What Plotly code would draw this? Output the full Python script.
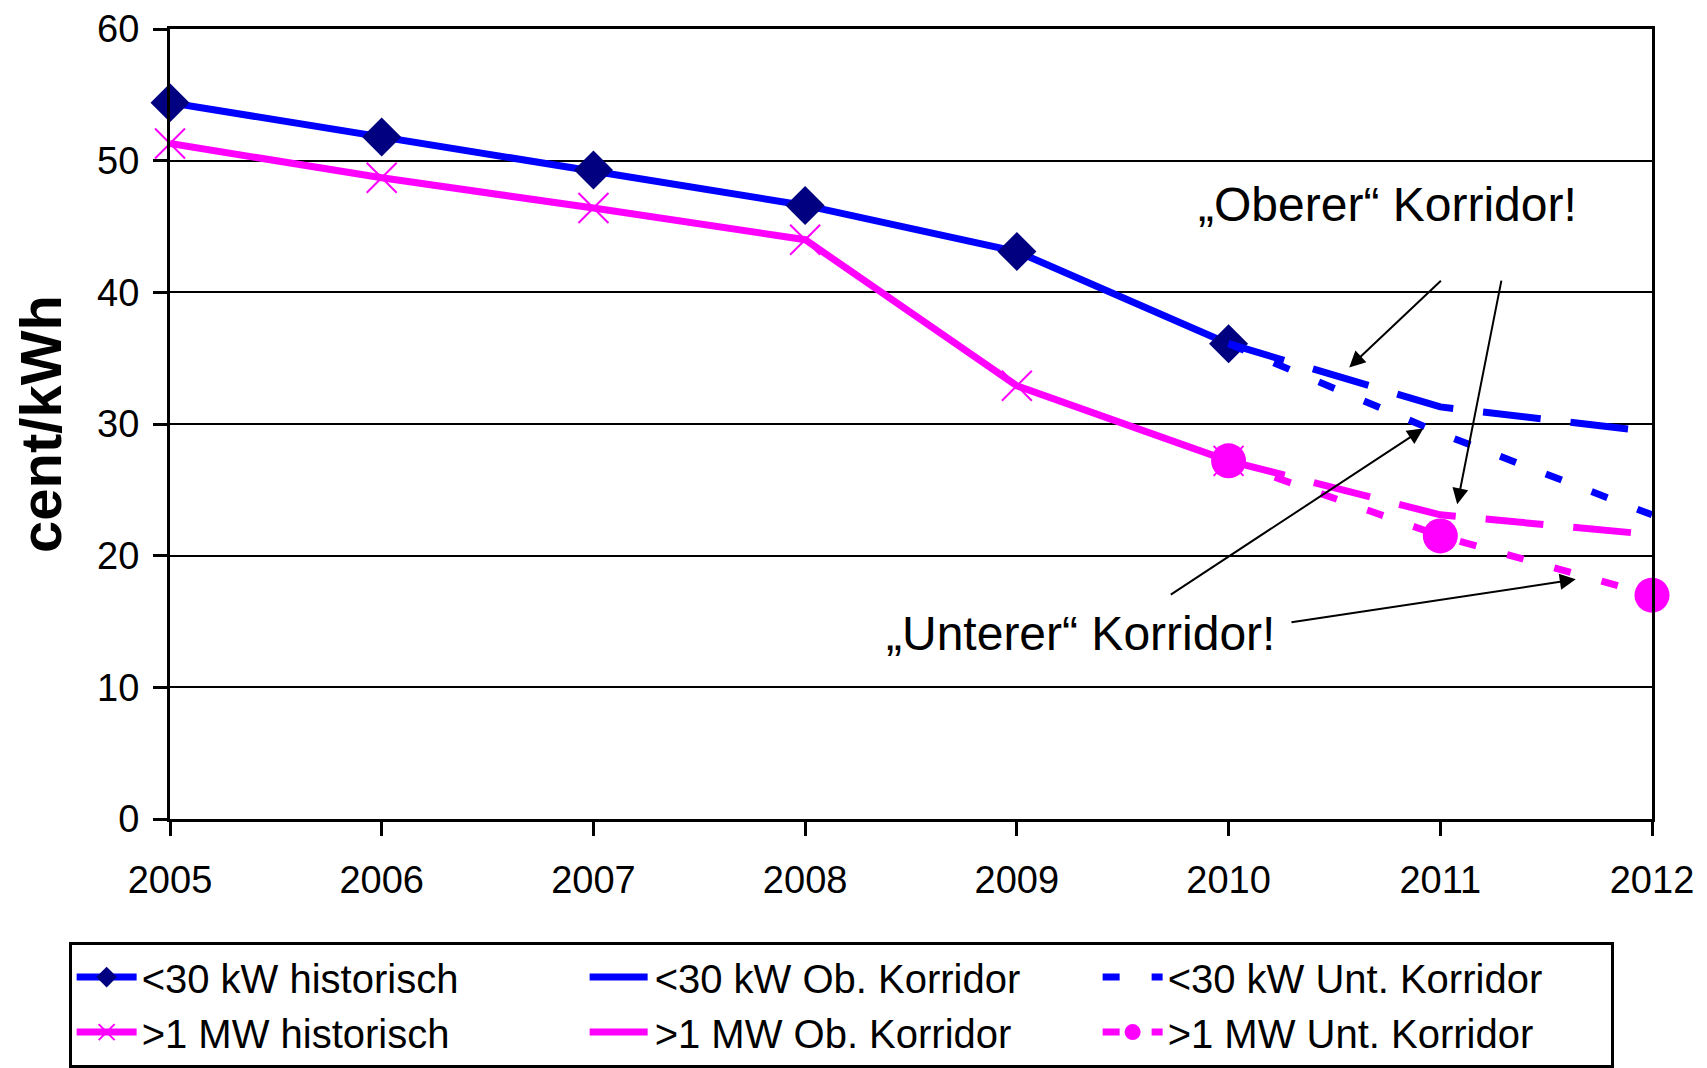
import plotly.graph_objects as go

# ---- data ----
years_hist = [2005, 2006, 2007, 2008, 2009, 2010]
small_hist = [54.4, 51.8, 49.3, 46.6, 43.1, 36.1]
large_hist = [51.3, 48.7, 46.4, 44.0, 32.9, 27.2]

years_fc = [2010, 2011, 2012]
small_upper = [36.1, 31.3, 29.4]
small_lower = [36.1, 29.3, 23.1]
large_upper = [27.2, 23.1, 21.6]
large_lower = [27.2, 21.5, 17.0]

tick_years = [2005, 2006, 2007, 2008, 2009, 2010, 2011, 2012]
y_ticks = [0, 10, 20, 30, 40, 50, 60]

names = [
    "<30 kW historisch",
    "<30 kW Ob. Korridor",
    "<30 kW Unt. Korridor",
    ">1 MW historisch",
    ">1 MW Ob. Korridor",
    ">1 MW Unt. Korridor",
]

BLUE = "#0000FF"
NAVY = "#000080"
MAG = "#FF00FF"
FONT = "Liberation Sans, Arial, sans-serif"
LW = 7
LONG = "58px,30px"
SHORT = "17px,32px"

fig = go.Figure()
fig.add_trace(go.Scatter(x=years_hist, y=small_hist, name=names[0], mode="lines+markers",
                         line=dict(color=BLUE, width=LW),
                         marker=dict(symbol="diamond", size=30, color=NAVY), cliponaxis=False))
fig.add_trace(go.Scatter(x=years_fc, y=small_upper, name=names[1], mode="lines",
                         line=dict(color=BLUE, width=LW, dash=LONG), cliponaxis=False))
fig.add_trace(go.Scatter(x=years_fc, y=small_lower, name=names[2], mode="lines",
                         line=dict(color=BLUE, width=LW, dash=SHORT), cliponaxis=False))
fig.add_trace(go.Scatter(x=years_hist, y=large_hist, name=names[3], mode="lines+markers",
                         line=dict(color=MAG, width=LW),
                         marker=dict(symbol="x-thin", size=30, color=MAG,
                                     line=dict(color=MAG, width=2)), cliponaxis=False))
fig.add_trace(go.Scatter(x=years_fc, y=large_upper, name=names[4], mode="lines",
                         line=dict(color=MAG, width=LW, dash=LONG), cliponaxis=False))
fig.add_trace(go.Scatter(x=years_fc, y=large_lower, name=names[5], mode="lines+markers",
                         line=dict(color=MAG, width=LW, dash=SHORT),
                         marker=dict(symbol="circle", size=35, color=MAG), cliponaxis=False))

ann_font = dict(family=FONT, size=48, color="black")
annotations = [
    dict(x=2010.75, y=46.7, text="„Oberer“ Korridor!", showarrow=False, font=ann_font),
    dict(x=2009.30, y=14.1, text="„Unterer“ Korridor!", showarrow=False, font=ann_font),
]
arrows = [
    ((2011.01, 40.98), (2010.57, 34.3)),
    ((2011.29, 41.0), (2011.08, 23.9)),
    ((2009.72, 16.97), (2010.92, 29.65)),
    ((2010.29, 14.92), (2011.64, 18.2)),
]
for (tx, ty), (hx, hy) in arrows:
    annotations.append(dict(x=hx, y=hy, ax=tx, ay=ty, axref="x", ayref="y", xref="x", yref="y",
                            text="", showarrow=True, arrowhead=2, arrowsize=1.6,
                            arrowwidth=2, arrowcolor="black", standoff=0))

fig.update_layout(
    width=1707, height=1068,
    margin=dict(l=162, r=63, t=21, b=257, autoexpand=False),
    paper_bgcolor="white", plot_bgcolor="white",
    font=dict(family=FONT, size=38, color="black"),
    showlegend=True,
    legend=dict(orientation="h", x=-0.0684, y=-0.1552, xanchor="left", yanchor="top",
                bordercolor="black", borderwidth=3, bgcolor="white",
                font=dict(family=FONT, size=40, color="black"),
                entrywidth=438, entrywidthmode="pixels", itemwidth=60,
                traceorder="normal"),
    annotations=annotations,
)
fig.update_xaxes(range=[2005, 2012], tickvals=tick_years, ticktext=[str(v) for v in tick_years],
                 showgrid=False, zeroline=False, showline=True, linecolor="black", linewidth=3,
                 mirror=True, ticks="outside", ticklen=14, tickwidth=3, tickcolor="black",
                 tickfont=dict(family=FONT, size=38, color="black"), ticklabelstandoff=11,
                 ticklabeloverflow="allow")
fig.update_yaxes(range=[0, 60], tickvals=y_ticks, showgrid=True, gridcolor="black", gridwidth=2,
                 zeroline=False, showline=True, linecolor="black", linewidth=3, mirror=True,
                 ticks="outside", ticklen=14, tickwidth=3, tickcolor="black",
                 tickfont=dict(family=FONT, size=38, color="black"), ticklabelstandoff=6,
                 ticklabeloverflow="allow",
                 title=dict(text="<b>cent/kWh</b>", font=dict(family=FONT, size=58, color="black"),
                            standoff=30))

fig.write_html("out.html")
